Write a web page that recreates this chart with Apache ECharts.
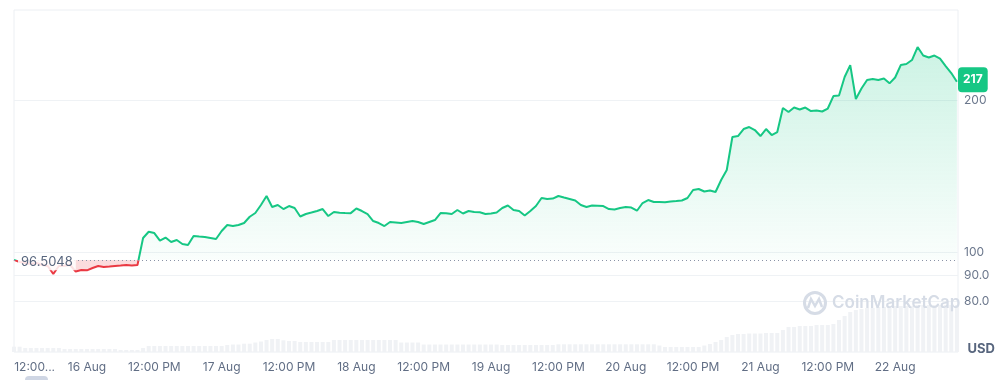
<!DOCTYPE html>
<html><head><meta charset="utf-8">
<script src="https://cdn.jsdelivr.net/npm/echarts@6/dist/echarts.min.js"></script>
<style>html,body{margin:0;padding:0;background:#fff}#c{width:1000px;height:380px}</style>
</head><body><div id="c"></div>
<script>
// ---- data (hourly from 15 Aug 11:00) ----
const startTime = '2024-08-15T11:00';
const endTime = '2024-08-22T11:12';
const prices = [
 96.50,95.54,95.11,94.68,95.11,94.25,93.82,90.46,93.82,93.90,94.25,91.49,
 92.12,92.00,92.96,93.82,93.39,93.60,93.82,94.00,94.25,94.00,94.25,106.59,
 109.70,109.05,105.38,106.84,104.67,105.62,103.72,103.24,107.57,107.30,107.08,106.59,
 106.11,110.05,113.10,112.59,113.10,114.14,117.46,119.46,123.90,129.09,122.78,123.90,
 121.66,123.34,122.22,117.57,118.92,119.73,120.56,121.66,117.84,120.01,119.60,119.46,
 119.40,121.94,120.56,118.92,115.18,114.14,112.59,114.66,114.40,114.14,114.66,115.18,
 114.66,113.62,114.66,115.71,119.46,119.40,118.92,121.11,119.20,120.56,120.01,119.85,
 118.92,119.20,119.73,122.22,123.62,121.11,120.56,118.11,120.56,123.34,127.92,127.34,
 127.60,129.09,128.21,127.34,126.47,123.90,122.78,123.62,123.50,123.34,121.66,121.40,
 122.22,122.78,122.50,120.72,125.04,126.76,125.61,125.61,125.50,125.90,126.18,126.47,
 127.92,132.67,133.28,131.77,132.37,131.47,138.86,145.34,168.93,169.70,175.21,176.81,
 174.41,169.70,175.21,170.48,172.83,192.82,189.34,193.26,191.51,193.26,190.20,190.60,
 189.80,192.40,203.66,204.10,222.10,234.57,200.90,210.75,219.09,220.09,219.09,220.59,
 215.81,221.60,234.57,235.64,239.98,254.64,244.96,242.73,244.96,241.63,233.51,226.18,
 217.30
];
const volumes = [
 5.3,5.3,4,4,4,4,4,4,4,3,3,3,
 3,3,3,3,3,3,3,2,2,2,2,4,
 6,6,6,6,6,6,6,6,6,6,6,6,
 6,6,7,7.5,7.5,8.3,8.3,9.5,10.5,12,13,13,
 11.7,11,11,10,10,10,10,10,10,12,12,12,
 12,12,12,12,12,12,12,12,12,9.5,9.5,9.5,
 9.5,7.5,7.5,7.5,7.5,7.5,7.5,7.5,7.5,7.5,7.5,7.5,
 7.5,7.5,7.5,7,7,7,7,7,7,7,7,7,
 7,7.7,7.7,7.7,7.7,7.7,7.7,7.7,7.7,7.7,7.7,7.7,
 7.7,7.7,7.7,7.7,7.7,7.7,7.7,6.5,5,5,5,5,
 5,5,5,6.5,8,10,12,15,17,18,18,18.5,
 18.5,18.5,19,19,19,22,25,25,26,26,26,27,
 27,27,28,32,36,40,42,43,44,44,45,45,
 46,46,46,46,46,47,47,47,47,47,47,47,
 47
];
const baseline = 96.5048;
const yTicks = [80, 90, 100, 200];
const yTickLabels = ['80.0', '90.0', '100', '200'];
const xTickTimes = ['2024-08-15T12:00','2024-08-16T00:00','2024-08-16T12:00','2024-08-17T00:00',
 '2024-08-17T12:00','2024-08-18T00:00','2024-08-18T12:00','2024-08-19T00:00','2024-08-19T12:00',
 '2024-08-20T00:00','2024-08-20T12:00','2024-08-21T00:00','2024-08-21T12:00','2024-08-22T00:00'];
const xTickLabels = ['12:00...','16 Aug','12:00 PM','17 Aug','12:00 PM','18 Aug','12:00 PM','19 Aug',
 '12:00 PM','20 Aug','12:00 PM','21 Aug','12:00 PM','22 Aug'];
const currency = 'USD';

// ---- build ----
const HOUR = 3600e3;
const t0 = new Date(startTime).getTime();
const xMin = t0, xMax = new Date(endTime).getTime();
const priceData = prices.map((p, i) => [t0 + i * HOUR, p]);
const volData = volumes.map((v, i) => [t0 + i * HOUR, v]);
const xTickValues = xTickTimes.map(s => new Date(s).getTime());
const lastPrice = prices[prices.length - 1];
const yMin = 63.39, yMax = 301.5;
const GREEN = '#16c784', RED = '#ea3943';
const FONT = 'Inter, "Noto Sans", sans-serif';

const chart = echarts.init(document.getElementById('c'));
const option = {
  animation: false,
  textStyle: { fontFamily: FONT },
  grid: [
    { left: 14, right: 42, top: 10, bottom: 28, show: true, borderColor: '#eceff3', borderWidth: 1 },
    { left: 14, right: 42, top: 292, bottom: 28 }
  ],
  xAxis: [
    { type: 'value', gridIndex: 0, min: xMin, max: xMax, scale: true,
      axisLine: { show: false }, axisTick: { show: false, customValues: xTickValues },
      splitLine: { show: false },
      axisLabel: { customValues: xTickValues, color: '#616e85', fontSize: 12, margin: 9, fontFamily: FONT,
        formatter: (v) => { const k = xTickValues.indexOf(v); const s = k >= 0 ? xTickLabels[k] : '';
          return k === 0 ? '{f|' + s + '}' : s; },
        rich: { f: { padding: [0, 0, 0, 30], color: '#616e85', fontSize: 12, fontFamily: FONT } } } },
    { type: 'value', gridIndex: 1, min: xMin, max: xMax, scale: true, show: false }
  ],
  yAxis: [
    { type: 'log', gridIndex: 0, position: 'right', min: yMin, max: yMax,
      axisLine: { show: false }, axisTick: { show: false, customValues: yTicks },
      axisLabel: { customValues: yTicks, color: '#6b778c', fontSize: 12, margin: 6, fontFamily: FONT,
        formatter: (v) => { const k = yTicks.indexOf(Math.round(v)); return k >= 0 ? yTickLabels[k] : ''; } },
      splitLine: { show: true, lineStyle: { color: '#eff2f5', width: 1 } } },
    { type: 'value', gridIndex: 1, min: 0, max: 60, show: false }
  ],
  series: [
    { type: 'bar', xAxisIndex: 1, yAxisIndex: 1, data: volData, barWidth: 4, silent: true,
      itemStyle: { color: '#f0f2f5' }, z: 1 },
    { type: 'line', xAxisIndex: 0, yAxisIndex: 0, data: priceData, symbol: 'none', showSymbol: false,
      lineStyle: { width: 2, color: GREEN }, areaStyle: { origin: baseline, color: 'rgba(22,199,132,0.15)' }, z: 3,
      markLine: { silent: true, symbol: ['none', 'none'], animation: false,
        data: [
          { yAxis: baseline, lineStyle: { type: [1, 3], color: '#8a93a6', width: 1 },
            label: { show: true, position: 'insideStartTop', distance: [4, 0], verticalAlign: 'middle', offset: [0, 2],
              formatter: String(baseline), color: '#58667e', fontSize: 13, fontFamily: FONT,
              backgroundColor: 'rgba(255,255,255,0.85)', padding: [2, 3] } },
          { yAxis: lastPrice, lineStyle: { color: 'rgba(0,0,0,0)', width: 1, opacity: 1 },
            label: { show: true, position: 'end', distance: 0, formatter: String(Math.round(lastPrice)), opacity: 1,
              color: '#ffffff', fontWeight: 'bold', fontSize: 12, fontFamily: FONT, offset: [0, -2],
              backgroundColor: GREEN, padding: [7, 5, 6, 5], borderRadius: 4 } }
        ] } }
  ],
  graphic: [
    { type: 'circle', z: 50, silent: true, shape: { cx: 815, cy: 303, r: 10.5 }, style: { fill: 'none', stroke: '#d6dce6', lineWidth: 3 } },
    { type: 'polyline', z: 50, silent: true, shape: { points: [[808, 308], [811, 299], [815, 306], [819, 299], [822, 307]] },
      style: { fill: 'none', stroke: '#d6dce6', lineWidth: 2.5 } },
    { type: 'text', z: 50, silent: true, style: { text: 'CoinMarketCap', x: 832, y: 303, verticalAlign: 'middle',
      font: '600 17px Inter, sans-serif', fill: '#d6dce6' } },
    { type: 'text', z: 50, silent: true, style: { text: currency, x: 995, y: 349, align: 'right', verticalAlign: 'middle',
      font: 'bold 13px Inter, sans-serif', fill: '#58667e' } },
    { type: 'rect', z: 50, silent: true, shape: { x: 25, y: 376, width: 23, height: 8, r: 4 }, style: { fill: '#cfd6e4' } }
  ]
};
chart.setOption(option);

// colour split at the baseline, computed from the axis scale
const topPx = chart.convertToPixel({ yAxisIndex: 0 }, yMax);
const botPx = chart.convertToPixel({ yAxisIndex: 0 }, yMin);
const basePx = chart.convertToPixel({ yAxisIndex: 0 }, baseline);
const f = Math.min(1, Math.max(0, (basePx - topPx) / (botPx - topPx)));
chart.setOption({ series: [{}, {
  lineStyle: { color: { type: 'linear', global: true, x: 0, y: topPx, x2: 0, y2: botPx,
    colorStops: [{ offset: 0, color: GREEN }, { offset: f, color: GREEN }, { offset: f, color: RED }, { offset: 1, color: RED }] } },
  areaStyle: { origin: baseline, color: { type: 'linear', global: true, x: 0, y: topPx, x2: 0, y2: botPx,
    colorStops: [{ offset: 0, color: 'rgba(22,199,132,0.36)' }, { offset: f, color: 'rgba(22,199,132,0.03)' },
      { offset: f, color: 'rgba(234,57,67,0.25)' }, { offset: 1, color: 'rgba(234,57,67,0.25)' }] } }
}] });
</script></body></html>
